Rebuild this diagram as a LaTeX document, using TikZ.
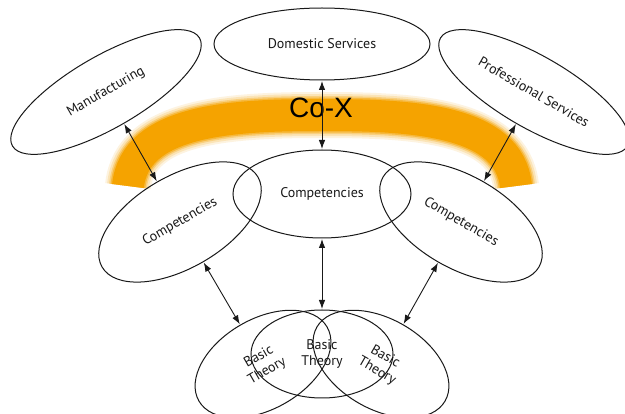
\documentclass[tikz,border=0pt]{standalone}
\usepackage{fontspec}
\newfontfamily\lab{PT Sans}
\newfontfamily\coxfont{Liberation Sans}
\usetikzlibrary{shapes.geometric,arrows.meta}
\definecolor{bandc}{RGB}{245,163,0}
\definecolor{inkc}{RGB}{25,25,25}
\tikzset{
  ell/.style={ellipse, draw=inkc, line width=1pt, inner sep=0pt, outer sep=0pt,
    font=\lab\fontsize{14}{16.5}\selectfont, text=inkc, align=center},
  arr/.style={{Latex[length=9pt,width=6.5pt]}-{Latex[length=9pt,width=6.5pt]}, line width=0.9pt, draw=inkc, shorten <=1pt, shorten >=1pt}
}
\begin{document}
\begin{tikzpicture}[x=1pt,y=-1pt]
\useasboundingbox[fill=white] (0,0) rectangle (625,414);
% orange Co-X band (soft edges)
\foreach \w/\o in {46/0.12, 42/0.18, 38/0.3, 35/0.5, 32/1}{
  \draw[line width=\w pt, draw=bandc, opacity=\o]
    (128,186) .. controls (135,120) and (230,115) .. (322,115)
              .. controls (414,115) and (509,120) .. (516,186);
}
\node[font=\coxfont\fontsize{28}{30}\selectfont, text=black] (cox) at (321,108) {Co-X};
% top row
\node[ell, minimum width=216pt, minimum height=72pt] (dom) at (322,44) {Domestic Services};
\node[ell, minimum width=216pt, minimum height=72pt, rotate=30] (man) at (106,92) {Manufacturing};
\node[ell, minimum width=216pt, minimum height=72pt, rotate=-30] (pro) at (534,92) {Professional Services};
% competencies
\node[ell, minimum width=178pt, minimum height=88pt] (cc) at (322,194) {Competencies};
\node[ell, minimum width=180pt, minimum height=92pt, rotate=30] (lc) at (180,222) {Competencies};
\node[ell, minimum width=180pt, minimum height=92pt, rotate=-30] (rc) at (461,222) {Competencies};
% basic theory
\node[ell, minimum width=142pt, minimum height=88pt] (mb) at (322,354) {Basic\\Theory};
\node[ell, minimum width=148pt, minimum height=90pt, rotate=30] (lb) at (263,364) {Basic\\Theory};
\node[ell, minimum width=148pt, minimum height=90pt, rotate=-30] (rb) at (381,364) {Basic\\Theory};
% arrows
\draw[arr] (man) -- (lc);
\draw[arr] (dom) -- (cc);
\draw[arr] (pro) -- (rc);
\draw[arr] (lc) -- (lb);
\draw[arr] (cc) -- (mb);
\draw[arr] (rc) -- (rb);
\end{tikzpicture}
\end{document}
